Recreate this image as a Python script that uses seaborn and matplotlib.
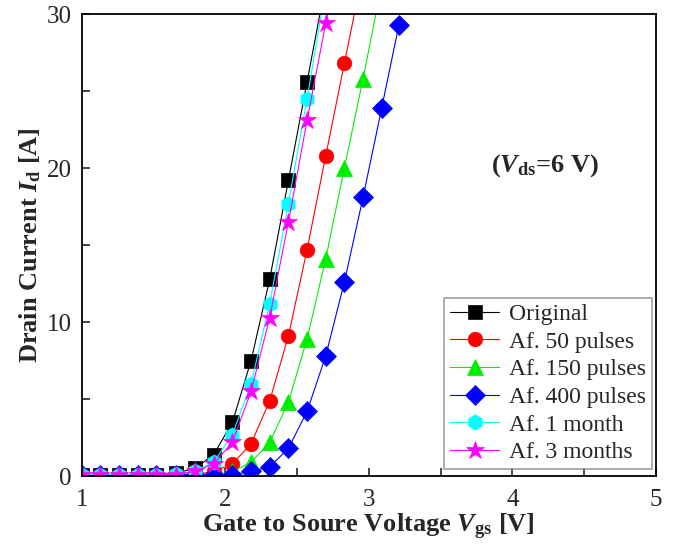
import matplotlib
matplotlib.use("Agg")
import matplotlib.pyplot as plt
import seaborn as sns
import pandas as pd
from matplotlib.ticker import MultipleLocator

sns.set_theme(style="ticks")
plt.rcParams['font.family'] = ['Liberation Serif', 'DejaVu Serif']
plt.rcParams['mathtext.fontset'] = 'custom'
plt.rcParams['mathtext.rm'] = 'Liberation Serif:bold'
plt.rcParams['mathtext.it'] = 'Liberation Serif:bold:italic'
plt.rcParams['mathtext.bf'] = 'Liberation Serif:bold'

# Data
vgs = [1.00, 1.13, 1.26, 1.39, 1.52, 1.66, 1.79, 1.92, 2.05, 2.18, 2.31,
       2.44, 2.57, 2.70, 2.83, 2.96, 3.09, 3.21]
original = [0.1, 0.1, 0.1, 0.1, 0.1, 0.2, 0.5, 1.4, 3.5, 7.5, 12.8, 19.2, 25.6, 32.0]
af50 = [0.05, 0.05, 0.05, 0.05, 0.05, 0.1, 0.1, 0.3, 0.8, 2.1, 4.9, 9.1, 14.7, 20.8, 26.8, 32.8]
af150 = [0.05, 0.05, 0.05, 0.05, 0.05, 0.05, 0.05, 0.1, 0.3, 0.9, 2.2, 4.8, 8.9, 14.1, 20.0, 25.8, 31.9]
af400 = [0.05, 0.05, 0.05, 0.05, 0.05, 0.05, 0.05, 0.05, 0.1, 0.3, 0.6, 1.8, 4.2, 7.8, 12.6, 18.1, 23.9, 29.3]
af1m = [0.1, 0.1, 0.1, 0.1, 0.1, 0.15, 0.3, 0.9, 2.7, 6.0, 11.2, 17.7, 24.5, 31.7]
af3m = [0.05, 0.05, 0.05, 0.05, 0.1, 0.1, 0.3, 0.8, 2.2, 5.5, 10.3, 16.5, 23.1, 29.4, 35.0]

labels = ["Original", "Af. 50 pulses", "Af. 150 pulses", "Af. 400 pulses",
          "Af. 1 month", "Af. 3 months"]
series = [original, af50, af150, af400, af1m, af3m]
colors = ["#000000", "#FF0000", "#00EE00", "#0000FF", "#00FFFF", "#FF00FF"]
markers = ["s", "o", "^", "D", "h", "*"]
msizes = [9.5, 10.5, 11.5, 10.5, 11, 13.5]

fig = plt.figure(figsize=(6.81, 5.46), dpi=100)
ax = fig.add_axes([0.120, 0.128, 0.843, 0.846])

for lab, ys, c, m, ms in zip(labels, series, colors, markers, msizes):
    df = pd.DataFrame({"Vgs": vgs[:len(ys)], "Id": ys})
    sns.lineplot(data=df, x="Vgs", y="Id", ax=ax, color=c, marker=m,
                 markersize=ms, markeredgecolor=c, markeredgewidth=0.5,
                 linewidth=0.8, label=lab)

ax.set_xlim(1, 5)
ax.set_ylim(0, 30)
ax.xaxis.set_major_locator(MultipleLocator(1))
ax.xaxis.set_minor_locator(MultipleLocator(0.5))
ax.yaxis.set_major_locator(MultipleLocator(10))
ax.yaxis.set_minor_locator(MultipleLocator(5))
ax.tick_params(which='both', direction='in', length=6, width=1.2,
               top=False, right=False, labelsize=18)
ax.tick_params(axis='x', pad=9)
ax.tick_params(axis='y', pad=7)
for s in ax.spines.values():
    s.set_linewidth(1.3)
    s.set_color('black')

ax.set_xlabel("Gate to Soure Voltage $V_{\\rm gs}$ [V]", fontsize=19,
              fontweight='bold', labelpad=1)
ax.set_ylabel("Drain Current $I_{\\rm d}$ [A]", fontsize=19,
              fontweight='bold', labelpad=3)

ax.text(4.23, 20.2, "($V_{\\rm ds}$=6 V)", fontsize=19, fontweight='bold',
        ha='center', va='center')

leg = ax.legend(loc='lower right', bbox_to_anchor=(0.993, 0.015), fontsize=17,
                frameon=True, fancybox=False, edgecolor='#888888',
                handlelength=2.1, handletextpad=0.4, labelspacing=0.26,
                borderpad=0.25, borderaxespad=0.0)
leg.get_frame().set_linewidth(1.2)

fig.savefig("out.png", dpi=100)
